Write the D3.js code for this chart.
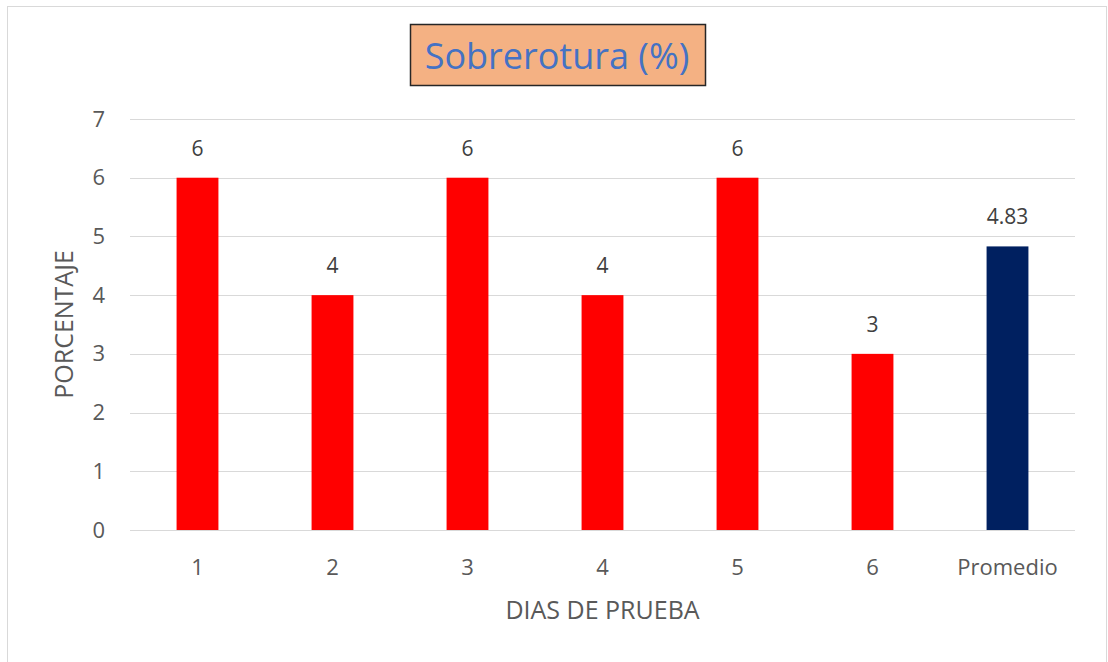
<html>
<head>
<meta charset="utf-8">
<script src="https://d3js.org/d3.v7.min.js"></script>
<style>
  body { margin: 0; background: #fff; }
  text { font-family: "Open Sans", "Noto Sans", sans-serif; }
</style>
</head>
<body>
<div id="chart"></div>
<script>

// values
var dias = ["1", "2", "3", "4", "5", "6", "Promedio"];
var valores = [6, 4, 6, 4, 6, 3, 4.83];
var etiquetas = ["6", "4", "6", "4", "6", "3", "4.83"];
var colores = ["#FF0000", "#FF0000", "#FF0000", "#FF0000", "#FF0000", "#FF0000", "#002060"];
var yTicks = [0, 1, 2, 3, 4, 5, 6, 7];

var W = 1108, H = 662;
var margin = {top: 119, right: 33, bottom: 132, left: 130},
    width = W - margin.left - margin.right,
    height = H - margin.top - margin.bottom;

var svg = d3.select("#chart").append("svg")
    .attr("width", W)
    .attr("height", H);

// outer chart frame
svg.append("rect")
    .attr("x", 7.5).attr("y", 6.5)
    .attr("width", 1099).attr("height", 670)
    .attr("fill", "#fff")
    .attr("stroke", "#d9d9d9");

var g = svg.append("g")
    .attr("transform", "translate(" + margin.left + "," + margin.top + ")");

var x = d3.scaleBand()
    .domain(dias)
    .range([0, width])
    .paddingInner(0.69)
    .paddingOuter(0.345);

var y = d3.scaleLinear()
    .domain([0, 7])
    .range([height, 0]);

// gridlines
g.selectAll("line.grid")
  .data(yTicks)
  .enter().append("line")
    .attr("class", "grid")
    .attr("x1", 0).attr("x2", width)
    .attr("y1", function(d) { return Math.round(y(d)) + 0.5; })
    .attr("y2", function(d) { return Math.round(y(d)) + 0.5; })
    .attr("stroke", "#d9d9d9")
    .attr("stroke-width", 1);

// y axis labels
var yAxis = g.append("g")
    .call(d3.axisLeft(y).tickValues(yTicks).tickFormat(d3.format("d")).tickSize(0).tickPadding(25));
yAxis.select(".domain").remove();
yAxis.selectAll("text")
    .attr("fill", "#595959")
    .style("font-size", "22px");

// x axis labels
var xAxis = g.append("g")
    .attr("transform", "translate(0," + height + ")")
    .call(d3.axisBottom(x).tickSize(0).tickPadding(29));
xAxis.select(".domain").remove();
xAxis.selectAll("text")
    .attr("fill", "#595959")
    .style("font-size", "22px");

// bars
g.selectAll("rect.bar")
  .data(valores)
  .enter().append("rect")
    .attr("class", "bar")
    .attr("x", function(d, i) { return x(dias[i]); })
    .attr("y", function(d) { return y(d); })
    .attr("width", x.bandwidth())
    .attr("height", function(d) { return height - y(d); })
    .attr("fill", function(d, i) { return colores[i]; });

// data labels
g.selectAll("text.lbl")
  .data(valores)
  .enter().append("text")
    .attr("class", "lbl")
    .attr("x", function(d, i) { return x(dias[i]) + x.bandwidth() / 2; })
    .attr("y", function(d) { return y(d) - 22; })
    .attr("text-anchor", "middle")
    .attr("fill", "#404040")
    .style("font-size", "21px")
    .text(function(d, i) { return etiquetas[i]; });

// axis titles
svg.append("text")
    .attr("x", margin.left + width / 2)
    .attr("y", 619)
    .attr("text-anchor", "middle")
    .attr("fill", "#595959")
    .style("font-size", "25px")
    .text("DIAS DE PRUEBA");

svg.append("text")
    .attr("transform", "translate(73," + (margin.top + height / 2) + ") rotate(-90)")
    .attr("text-anchor", "middle")
    .attr("fill", "#595959")
    .style("font-size", "25px")
    .text("PORCENTAJE");

// title box
svg.append("rect")
    .attr("x", 410.5).attr("y", 24.5)
    .attr("width", 295).attr("height", 61)
    .attr("fill", "#F4B183")
    .attr("stroke", "#262626")
    .attr("stroke-width", 1.5);

svg.append("text")
    .attr("x", 557)
    .attr("y", 69)
    .attr("text-anchor", "middle")
    .attr("fill", "#4472C4")
    .style("font-size", "36px")
    .text("Sobrerotura (%)");

</script>
</body>
</html>
